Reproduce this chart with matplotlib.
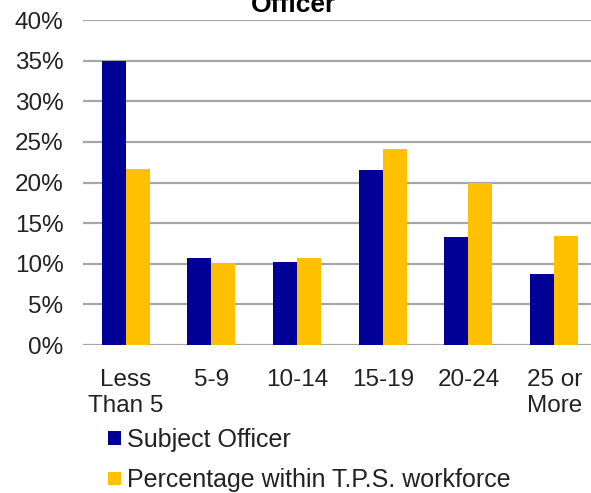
import matplotlib
matplotlib.use("Agg")
import matplotlib.pyplot as plt
import numpy as np
from matplotlib.ticker import FuncFormatter

plt.rcParams['font.family'] = ['Liberation Sans', 'DejaVu Sans']

categories = ["Less\nThan 5", "5-9", "10-14", "15-19", "20-24", "25 or\nMore"]
subject_officer = [35.0, 10.7, 10.25, 21.6, 13.25, 8.7]
tps_workforce = [21.7, 10.1, 10.7, 24.1, 20.0, 13.4]
series_names = ["Subject Officer", "Percentage within T.P.S. workforce"]
y_ticks = [0, 5, 10, 15, 20, 25, 30, 35, 40]

navy = "#000096"
gold = "#FFC000"
grid_grey = "#A6A6A6"
fs = 17.5

fig = plt.figure(figsize=(5.91, 4.93), dpi=100)
ax = fig.add_axes([0.1404, 0.3002, 0.8697, 0.6592])

x = np.arange(len(categories))
w = 0.28
b1 = ax.bar(x - w / 2, subject_officer, width=w, color=navy, label=series_names[0], zorder=3)
b2 = ax.bar(x + w / 2, tps_workforce, width=w, color=gold, label=series_names[1], zorder=3)

ax.set_xlim(-0.5, len(categories) - 0.5)
ax.set_ylim(0, 40)
ax.set_yticks(y_ticks)
ax.yaxis.set_major_formatter(FuncFormatter(lambda v, p: f"{int(v)}%"))
ax.set_xticks(x)
ax.set_xticklabels(categories, fontsize=fs, linespacing=1.28)
ax.tick_params(axis='y', labelsize=fs, length=0, pad=14, labelcolor="#222222")
ax.tick_params(axis='x', length=0, pad=17, labelcolor="#222222")
ax.grid(axis='y', color=grid_grey, linewidth=1.6, zorder=0)
for s in ax.spines.values():
    s.set_visible(False)

# chart title, partly above the top edge of the canvas
fig.text(0.496, 0.976, "Officer", ha='center', va='baseline', fontsize=19, fontweight='bold')

leg = fig.legend(handles=[b1, b2], labels=series_names, loc='upper left',
                 bbox_to_anchor=(0.183, 0.132), bbox_transform=fig.transFigure,
                 frameon=False, fontsize=18, handlelength=0.5, handleheight=0.45,
                 handletextpad=0.25, labelspacing=0.66, borderpad=0, borderaxespad=0)
for t in leg.get_texts():
    t.set_color("#222222")

fig.savefig("out.png", dpi=100)
